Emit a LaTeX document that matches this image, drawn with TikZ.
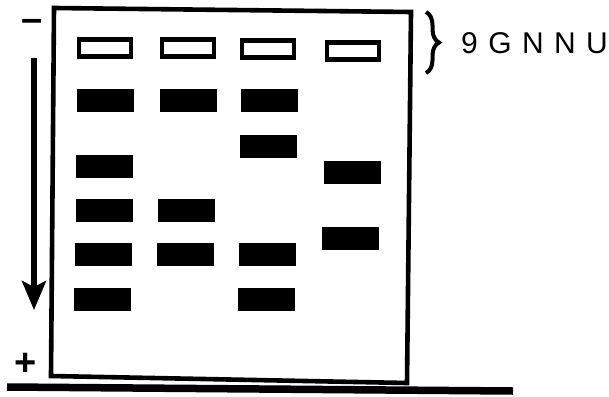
\documentclass[tikz,border=0pt]{standalone}
\usepackage{fontspec}
\setmainfont{Liberation Sans}
\usetikzlibrary{arrows.meta,decorations.pathreplacing}
\newcommand{\gapsp}{\hspace{10.4pt}}
\begin{document}
\begin{tikzpicture}[x=1pt,y=-1pt,
  wellbox/.style={draw=black,line width=4.4pt,fill=white,minimum width=52pt,minimum height=17pt,inner sep=0pt},
  bandbox/.style={fill=black,minimum width=57pt,minimum height=23pt,inner sep=0pt},
  lbl/.style={font=\fontsize{30}{30}\selectfont,inner sep=0pt,anchor=base west},
  sign/.style={inner sep=0pt,anchor=base,font=\fontsize{38}{38}\selectfont\bfseries}]
\useasboundingbox (0,0) rectangle (609,396);
% gel outline
\draw[line width=4.6pt,line join=miter] (54,8) -- (411,12) -- (407,383) -- (51,376) -- cycle;
% bottom bar
\draw[line width=7.5pt] (7,387) -- (513,391);
% wells
\node[wellbox] (w1) at (105,48) {};
\node[wellbox] (w2) at (188,48) {};
\node[wellbox] (w3) at (268,49) {};
\node[wellbox] (w4) at (353,51) {};
% bands lane 1
\node[bandbox] (a1) at (105,100) {};
\node[bandbox] (a2) at (104,166) {};
\node[bandbox] (a3) at (104,210) {};
\node[bandbox] (a4) at (103,254) {};
\node[bandbox] (a5) at (102,299) {};
% lane 2
\node[bandbox] (b1) at (188,100) {};
\node[bandbox] (b2) at (186,210) {};
\node[bandbox] (b3) at (185,254) {};
% lane 3
\node[bandbox] (c1) at (269,100) {};
\node[bandbox] (c2) at (268,146) {};
\node[bandbox] (c3) at (267,254) {};
\node[bandbox] (c4) at (266,299) {};
% lane 4
\node[bandbox] (d1) at (352,172) {};
\node[bandbox] (d2) at (350,238) {};
% electrodes
\node[sign] (minus) at (32,31.5) {\textendash};
\node[sign] (plus) at (26,375) {+};
\coordinate (arrtop) at (34,58);
\coordinate (arrtip) at (34,310);
\draw[line width=5.5pt,-{Stealth[width=24pt,length=29pt,inset=6pt]}] (arrtop) -- (arrtip);
% brace and label
\coordinate (bt) at (426,12);
\coordinate (bb) at (426,73);
\draw[line width=4pt,decorate,decoration={brace,amplitude=13pt}] (bt) -- (bb);
\node[lbl] (lab) at (461,53) {9\gapsp G\gapsp N\gapsp N\gapsp U};
\end{tikzpicture}
\end{document}
